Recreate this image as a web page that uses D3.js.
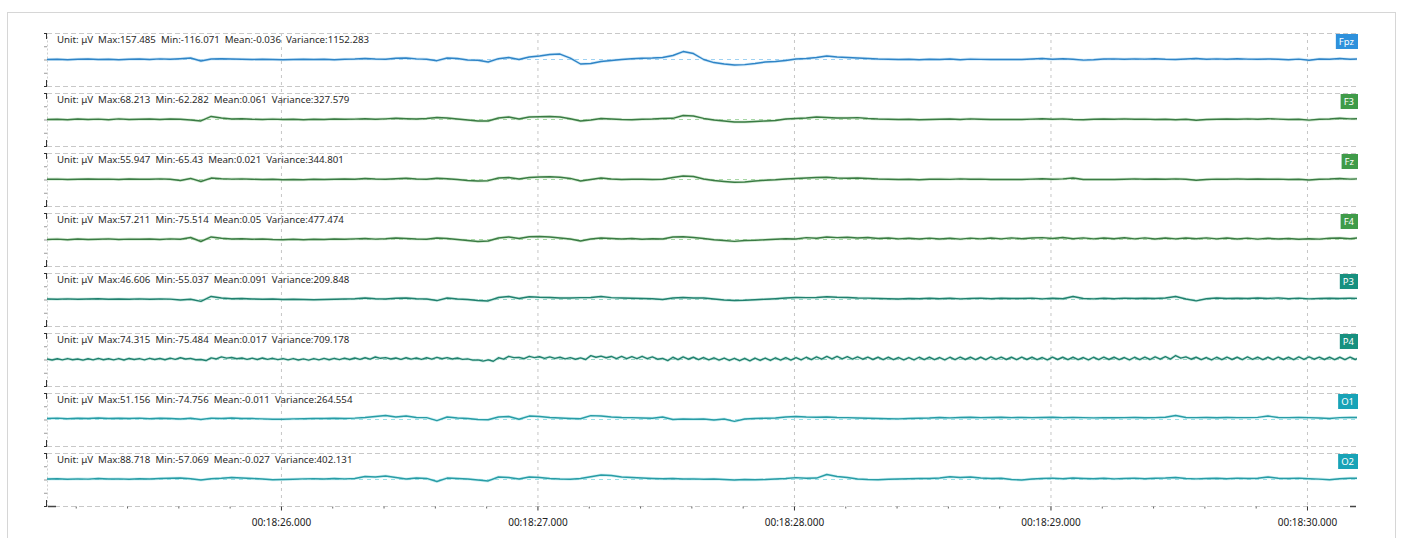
<!DOCTYPE html>
<html>
<head>
<meta charset="utf-8">
<script src="https://cdn.jsdelivr.net/npm/d3@7"></script>
<style>
    body { margin: 0; background: #fff; }
    svg { display: block; font-family: "Noto Sans", "Open Sans", sans-serif; }
</style>
</head>
<body>
<div id="chart"></div>
<script>
// channels and their header stats
var channels = ["Fpz", "F3", "Fz", "F4", "P3", "P4", "O1", "O2"];
var maxVals  = ["157.485", "68.213", "55.947", "57.211", "46.606", "74.315", "51.156", "88.718"];
var minVals  = ["-116.071", "-62.282", "-65.43", "-75.514", "-55.037", "-75.484", "-74.756", "-57.069"];
var meanVals = ["-0.036", "0.061", "0.021", "0.05", "0.091", "0.017", "-0.011", "-0.027"];
var varVals  = ["1152.283", "327.579", "344.801", "477.474", "209.848", "709.178", "264.554", "402.131"];

// time axis (seconds after 00:18:00)
var tickSeconds = [26, 27, 28, 29, 30];
var tickLabels = ["00:18:26.000", "00:18:27.000", "00:18:28.000", "00:18:29.000", "00:18:30.000"];
var startSec = 25.088, endSec = 30.195;
// sample spacing of the arrays below, seconds
var sampleStep = [0.04, 0.04, 0.04, 0.04, 0.04, 0.02, 0.04, 0.04];

// signal values in uV
var fpz = [0, 2, -2, 2, 4, 0, 2, -2, 2, 4,
    0, 5, 2, 6, 11, -11, 4, 6, 4, 2,
    0, 2, 0, -2, 0, 2, 0, 2, -2, 2,
    4, 8, 4, 2, 9, 11, 5, 2, -9, 11,
    8, -4, -6, -19, 6, 15, 0, 19, 26, 38,
    41, 11, -34, -30, -15, -8, 0, 6, 9, 11,
    15, 30, 60, 45, 0, -23, -34, -41, -39, -30,
    -19, -15, -8, 4, 8, 15, 26, 19, 15, 11,
    8, 4, 2, 0, 2, -2, 2, 0, 4, -2,
    3, 1, 0, 0, 0, 0, 4, 8, 2, 6,
    2, -5, -2, 4, 5, 2, 5, 3, 6, 2,
    0, 4, 7, 2, 5, 2, 6, 3, 2, 4,
    2, -2, 3, -6, 4, 2, 8, 2, 4];

var f3 = [0, 2, -2, 4, 0, 3, -2, 5, 0, 2,
    4, 0, 4, 2, -4, -11, 23, 11, 4, 6,
    2, 0, 3, 0, 2, -2, 2, 0, 4, 2,
    3, 6, 2, 5, 9, 6, 4, 8, 15, 11,
    4, -4, -11, -11, 11, 19, 4, 19, 21, 23,
    19, 6, -11, -4, 8, 4, 0, -2, 2, 4,
    8, 9, 30, 26, 8, -4, -11, -19, -19, -15,
    -11, -8, 4, 8, 11, 19, 15, 11, 11, 14,
    8, 4, 2, 0, 2, -2, 0, 2, 4, 0,
    5, 2, 0, 0, 0, 0, 3, 6, 2, 5,
    0, -2, 2, 4, 2, 5, 2, 3, 0, 2,
    -2, 2, -6, 0, 2, 4, 2, 5, 2, 6,
    3, 0, 2, -5, 2, 4, 9, 5, 6];

var fz = [2, 3, 0, 2, 4, 2, 3, 0, 4, 2,
    2, 5, 2, -8, 8, -15, 11, 6, 3, 5,
    2, 0, 2, -2, 0, -2, 2, 0, 2, 4,
    2, 8, 4, 2, 6, 9, 4, 2, 9, 6,
    0, -8, -11, -9, 11, 15, 4, 15, 19, 21,
    17, 8, -11, 0, 11, 4, 0, 2, 2, 0,
    2, 15, 26, 23, 4, -8, -15, -21, -19, -11,
    -6, -2, 4, 8, 11, 15, 17, 11, 9, 11,
    8, 4, 2, 0, 2, -2, 2, 3, 1, 5,
    2, 3, 0, 0, 0, 0, 3, 6, 2, 5,
    11, 0, 0, 0, 0, 2, 5, 2, 4, 2,
    5, 2, -6, 0, 3, 2, 5, 2, 4, 2,
    3, 0, 2, -4, 2, 4, 8, 3, 6];

var f4 = [0, 3, -2, 4, 0, 2, 5, 0, 3, 2,
    4, 0, 5, 2, 15, -15, 19, 9, 4, 6,
    2, 4, 0, -2, 2, -2, 2, 0, 4, 2,
    5, 8, 3, 6, 11, 8, 4, 2, 11, 8,
    0, -8, -15, -11, 11, 19, 8, 21, 23, 19,
    11, 4, -11, 4, 11, 8, 4, 8, 2, 6,
    4, 19, 21, 15, 8, -2, -8, -14, -8, -6,
    -2, 2, 6, 4, 14, 9, 19, 14, 17, 11,
    15, 8, 11, 5, 9, 4, 10, 4, 9, 3,
    10, 5, 11, 5, 12, 6, 11, 14, 8, 15,
    6, 12, 5, 11, 6, 13, 5, 12, 4, 11,
    5, 11, 6, 12, 5, 11, 4, 10, 3, 9,
    4, 8, 2, 6, 3, 9, 11, 6, 14];

var p3 = [4, 2, 5, 2, 4, 6, 2, 4, 2, 5,
    2, 4, 3, -4, 2, -14, 23, 11, 6, 8,
    4, 2, 4, 0, 2, 0, -2, 0, 2, 4,
    6, 11, 6, 4, 9, 11, 6, 4, -8, 11,
    4, 0, -8, -11, 15, 23, 8, 21, 17, 15,
    11, 11, 14, 15, 23, 14, 11, 9, 8, 6,
    0, 11, 15, 11, 11, 4, -4, -8, -6, -2,
    2, 6, 11, 15, 14, 15, 21, 17, 15, 11,
    10, 8, 6, 4, 8, 6, 9, 6, 9, 5,
    8, 10, 6, 9, 7, 8, 10, 5, 9, 6,
    23, 8, 5, 9, 6, 10, 7, 9, 8, 11,
    23, 4, -10, 6, 11, 8, 9, 7, 11, 8,
    12, 6, 10, 5, 8, 9, 8, 10, 8];

var p4 = [4, -4, 6, -3, 7, -2, 4, -5, 6, -3, 8, -2, 6, -3, 7, -4, 8, 0, 7, -3,
    9, 0, 8, -2, 10, 1, 13, 4, 8, -2, 0, -8, 12, 4, 20, 10, 15, 6, 11, 1,
    10, 0, 11, 1, 9, -1, 7, -3, 7, -4, 5, -5, 7, -3, 8, -2, 9, -1, 10, 0,
    11, 1, 13, 3, 19, 9, 14, 4, 11, 1, 13, 3, 11, 1, 13, 3, 16, 6, 14, 4,
    11, 1, 5, -5, -3, -12, -3, -13, 13, 3, 24, 14, 16, 6, 24, 14, 21, 9, 20, 8,
    17, 5, 14, 2, 12, 0, 29, 17, 25, 13, 23, 7, 23, 6, 22, 6, 24, 6, 20, 2,
    8, -8, 17, -1, 20, 2, 17, -1, 15, -3, 13, -5, 11, -7, 9, -9, 9, -10, 11, -7,
    11, -7, 13, -5, 14, -4, 15, -3, 17, -1, 20, 2, 23, 5, 23, 5, 21, 3, 20, 2,
    18, 0, 17, -1, 17, -1, 15, -3, 15, -3, 17, -1, 17, -1, 15, -3, 17, -1, 18, 0,
    17, -1, 17, -1, 19, 1, 18, 0, 17, -1, 18, 0, 17, -1, 15, -3, 18, 0, 17, -1,
    17, -1, 15, -3, 17, -1, 18, 0, 17, -1, 15, -3, 17, -1, 18, 0, 20, 2, 21, 3,
    30, 10, 20, 2, 17, -1, 15, -3, 17, -1, 18, 0, 17, -1, 19, 1, 17, -1, 17, -1,
    18, 0, 17, -1, 19, 1, 20, 2, 18, 0, 17, -1, 17, -1, 18, 0, 17, -1];

var o1 = [8, 10, 6, 9, 8, 11, 7, 9, 8, 10,
    6, 9, 8, 4, 9, 0, 10, 8, 11, 8,
    7, 5, 2, 2, 5, 6, 8, 7, 9, 8,
    10, 15, 23, 30, 19, 26, 15, 14, -8, 19,
    11, 8, 0, -2, 19, 23, 2, 26, 23, 15,
    11, 8, 6, 29, 26, 19, 15, 14, 11, 9,
    19, 0, 4, 2, 4, -4, 4, -14, 4, 8,
    9, 11, 19, 23, 19, 17, 19, 15, 14, 11,
    9, 8, 6, 5, 8, 9, 11, 15, 12, 15,
    17, 14, 15, 17, 14, 16, 14, 15, 17, 14,
    15, 14, 12, 14, 13, 14, 15, 13, 14, 17,
    30, 15, 14, 15, 13, 15, 14, 14, 16, 26,
    15, 14, 15, 14, 11, 8, 14, 15, 15];

var o2 = [4, 6, 2, 5, 3, 7, 4, 5, 2, 6,
    4, 8, 9, 11, 6, -4, 6, 9, 15, 11,
    8, 4, -2, 0, 2, 5, 6, 4, 7, 5,
    8, 23, 19, 26, 15, 4, 11, 8, -15, 11,
    8, 4, -4, -11, 19, 15, 4, 19, 15, 8,
    4, 2, 8, 21, 34, 30, 19, 15, 11, 8,
    6, 8, 4, 5, 2, 4, 0, -4, 0, -2,
    0, 4, 8, 14, 9, 11, 38, 23, 15, 4,
    0, -2, 2, 4, 6, 8, 8, 11, 21, 15,
    19, 11, 8, 9, 0, -4, 4, 8, 10, 6,
    11, 8, 6, 9, 5, 8, 10, 6, 9, 11,
    15, 8, 5, 7, 9, 6, 10, 8, 9, 19,
    9, 8, 10, 6, 3, -2, 6, 9, 10];

var signals = [fpz, f3, fz, f4, p3, p4, o1, o2];

var lineColors = ["#2f84c6", "#3a7b44", "#3a7b44", "#3a7b44", "#21806e", "#21806e", "#289ca5", "#289ca5"];
var haloColors = ["#9fd2f2", "#a8d8a6", "#a8d8a6", "#a8d8a6", "#98d6c8", "#98d6c8", "#9ae0e6", "#9ae0e6"];
var boxColors  = ["#2e91dc", "#3f9b49", "#3f9b49", "#3f9b49", "#17907f", "#17907f", "#18a3b7", "#18a3b7"];

var W = 1406, H = 538;
var margin = {top: 33, right: 49, left: 47};
var bandStep = 60, bandH = 53;
var plotBottom = margin.top + 7 * bandStep + bandH;

var svg = d3.select("#chart")
    .append("svg")
    .attr("width", W)
    .attr("height", H);

// outer frame
svg.append("rect")
    .attr("x", 7.5).attr("y", 12.5)
    .attr("width", 1388).attr("height", 540)
    .attr("fill", "none")
    .attr("stroke", "#d6d6d6");

svg.append("clipPath").attr("id", "plotClip")
    .append("rect")
    .attr("x", margin.left).attr("y", 0)
    .attr("width", W - margin.right - margin.left).attr("height", H);

var x = d3.scaleLinear()
    .domain([startSec, endSec])
    .range([margin.left, W - margin.right]);

// vertical grid at each second
svg.append("g").selectAll("line")
    .data(tickSeconds)
    .enter().append("line")
    .attr("x1", d => x(d) + 0.5).attr("x2", d => x(d) + 0.5)
    .attr("y1", margin.top).attr("y2", plotBottom)
    .attr("stroke", "#c6c6c6")
    .attr("stroke-dasharray", "3,4");

channels.forEach(function (name, i) {
    var top = margin.top + i * bandStep;
    var y = d3.scaleLinear().domain([-200, 200]).range([top + bandH, top]);
    var g = svg.append("g").attr("class", "channel");

    // band borders
    g.selectAll(".edge")
        .data([200, -200])
        .enter().append("line")
        .attr("class", "edge")
        .attr("x1", x.range()[0]).attr("x2", x.range()[1])
        .attr("y1", d => Math.round(y(d)) + 0.5).attr("y2", d => Math.round(y(d)) + 0.5)
        .attr("stroke", "#c8c8c8")
        .attr("stroke-dasharray", "5,3");

    // zero line
    g.append("line")
        .attr("x1", x.range()[0]).attr("x2", x.range()[1])
        .attr("y1", y(0)).attr("y2", y(0))
        .attr("stroke", haloColors[i])
        .attr("stroke-dasharray", "4,4");

    // small y axis
    var ya = g.append("g")
        .attr("transform", "translate(" + margin.left + ",0)")
        .call(d3.axisLeft(y).tickValues([-200, -100, 0, 100, 200]).tickSize(3).tickSizeOuter(0).tickFormat(""));
    ya.select(".domain").attr("stroke", "#cfcfcf").attr("stroke-dasharray", "2,2");
    ya.selectAll(".tick line").attr("stroke", "#9a9a9a");
    ya.selectAll(".tick").filter(d => Math.abs(d) === 200).select("line").attr("stroke", "#333").attr("x2", -3);
    g.append("line")
        .attr("x1", margin.left - 0.5).attr("x2", margin.left - 0.5)
        .attr("y1", top).attr("y2", top + 6).attr("stroke", "#333");
    g.append("line")
        .attr("x1", margin.left - 0.5).attr("x2", margin.left - 0.5)
        .attr("y1", top + bandH - 6).attr("y2", top + bandH).attr("stroke", "#333");

    // header text
    g.append("text")
        .attr("x", 57).attr("y", top + 9.5)
        .style("font-size", "9.7px")
        .attr("fill", "#2a2a2a")
        .text("Unit: \u03bcV\u00a0 Max:" + maxVals[i] + "\u00a0 Min:" + minVals[i] + "\u00a0 Mean:" + meanVals[i] + "\u00a0 Variance:" + varVals[i]);

    // signal
    var stp = sampleStep[i];
    var line = d3.line()
        .x((d, j) => x(startSec + j * stp))
        .y(d => y(d));
    var sg = g.append("g").attr("clip-path", "url(#plotClip)");
    sg.append("path")
        .datum(signals[i])
        .attr("fill", "none")
        .attr("stroke", haloColors[i])
        .attr("stroke-opacity", 0.45)
        .attr("stroke-width", 3)
        .attr("stroke-linejoin", "round")
        .attr("d", line);
    sg.append("path")
        .datum(signals[i])
        .attr("fill", "none")
        .attr("stroke", lineColors[i])
        .attr("stroke-width", 1.4)
        .attr("stroke-linejoin", "round")
        .attr("d", line);

    // channel badge
    var badge = g.append("rect")
        .attr("y", top + 1)
        .attr("height", 15)
        .attr("fill", boxColors[i]);
    var lab = g.append("text")
        .attr("y", top + 12)
        .attr("text-anchor", "end")
        .attr("x", x.range()[1] - 3)
        .style("font-size", "9.5px")
        .attr("fill", "#fff")
        .text(name);
    var bw = lab.node().getComputedTextLength() + 7;
    badge.attr("x", x.range()[1] - bw + 1).attr("width", bw);
});

// time axis
var minorTicks = d3.range(25.2, endSec, 0.2).filter(d => Math.abs(d - Math.round(d)) > 0.01);
var axisY = plotBottom + 0.5;
var minor = svg.append("g")
    .attr("transform", "translate(0," + axisY + ")")
    .call(d3.axisBottom(x).tickValues(minorTicks).tickSize(2).tickFormat(""));
minor.select(".domain").remove();
minor.selectAll(".tick line").attr("stroke", "#666");

var major = svg.append("g")
    .attr("transform", "translate(0," + axisY + ")")
    .call(d3.axisBottom(x).tickValues(tickSeconds).tickSize(4).tickPadding(8)
        .tickFormat((d, k) => tickLabels[k]));
major.select(".domain").remove();
major.selectAll(".tick line").attr("stroke", "#333");
major.selectAll(".tick text")
    .style("font-size", "10px")
    .style("font-family", "\"Noto Sans\", sans-serif")
    .attr("fill", "#222");

// dark end caps of the time axis
svg.append("g").selectAll("line")
    .data([[x.range()[0] + 1, x.range()[0] + 9], [x.range()[1] - 7, x.range()[1] - 1]])
    .enter().append("line")
    .attr("x1", d => d[0]).attr("x2", d => d[1])
    .attr("y1", axisY).attr("y2", axisY)
    .attr("stroke", "#444").attr("stroke-width", 1.5);
</script>
</body>
</html>
